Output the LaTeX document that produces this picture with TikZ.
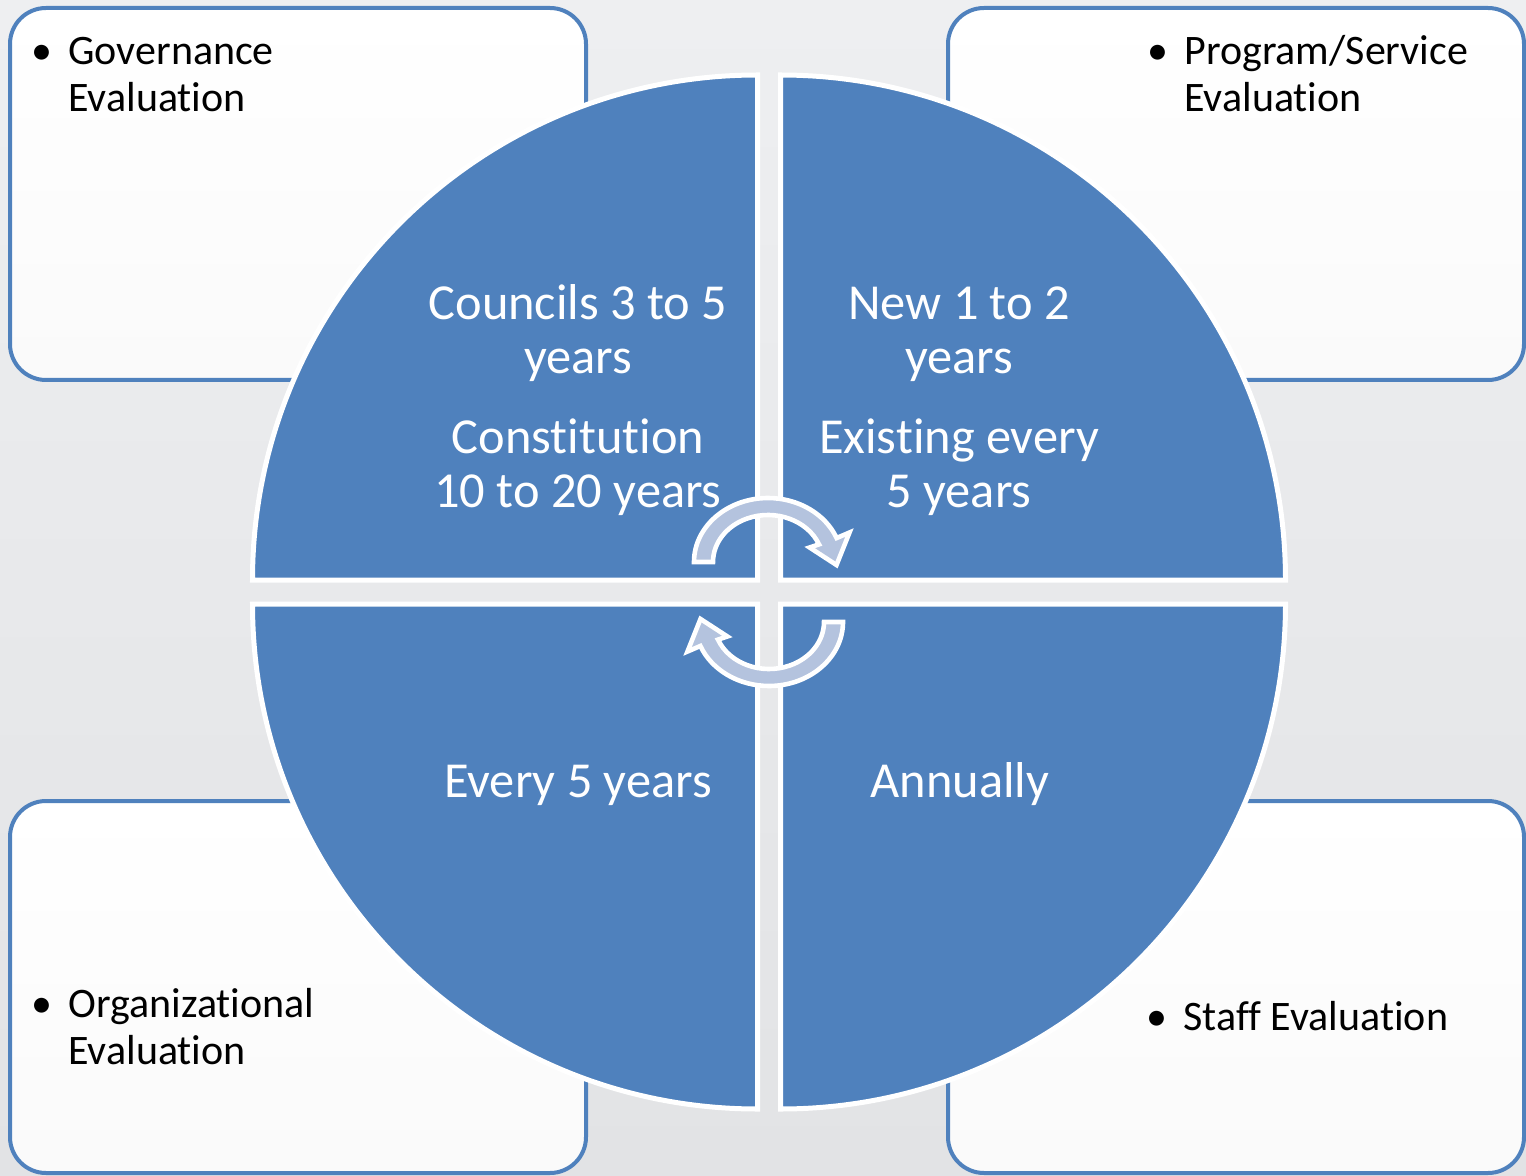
\documentclass[tikz,border=0pt]{standalone}
\usepackage{fontspec}
\setmainfont{Carlito}[Ligatures=NoCommon]
\definecolor{cycleblue}{RGB}{79,129,189}
\definecolor{arrowblue}{RGB}{180,195,222}
\definecolor{mistlight}{RGB}{238,239,241}
\definecolor{mistdark}{RGB}{226,227,229}

\begin{document}
\begin{tikzpicture}[
    x=0.5pt, y=0.5pt,
    evalbox/.style={rectangle, draw=cycleblue, line width=2pt, rounded corners=18pt, top color=white, bottom color=black!2, minimum width=288pt, minimum height=186pt, inner sep=0pt},
    quarter/.style={fill=cycleblue, draw=white, line width=2.5pt},
    boxtext/.style={font=\fontsize{21}{23.5}\selectfont, text=black, inner sep=0pt, anchor=base west},
    cycletext/.style={font=\fontsize{25.2}{27}\selectfont, text=white, inner sep=0pt, anchor=base},
    cyclearrow/.pic={
        \path[fill=arrowblue, draw=white, line width=2.3pt]
            (-74,0) arc[start angle=180, end angle=22, x radius=74, y radius=64]
            -- (81.5,29.5) -- (68.5,-3) -- (41.6,14.5)
            -- (51,17.6) arc[start angle=22, end angle=180, x radius=55, y radius=47]
            -- cycle;
    }
]
    \useasboundingbox (0,0) rectangle (1526,1175);
    \fill[top color=mistlight, bottom color=mistdark] (0,0) rectangle (1526,1175);

    % evaluation boxes
    \node[evalbox] (govbox) at (298,981) {};
    \node[evalbox] (progbox) at (1236,981) {};
    \node[evalbox] (orgbox) at (298,188) {};
    \node[evalbox] (staffbox) at (1236,188) {};

    % the four quarters
    \draw[quarter] (757.5,595) -- (252.5,595) arc[start angle=180, end angle=90, radius=505] -- cycle;
    \draw[quarter] (780.5,595) -- (780.5,1100) arc[start angle=90, end angle=0, radius=505] -- cycle;
    \draw[quarter] (757.5,571) -- (252.5,571) arc[start angle=180, end angle=270, radius=505] -- cycle;
    \draw[quarter] (780.5,571) -- (780.5,66) arc[start angle=270, end angle=360, radius=505] -- cycle;

    \node[boxtext] (govtext) at (68,1110) {\begin{tabular}[t]{@{}l@{}}\llap{•\hspace{8pt}}Governance\\Evaluation\end{tabular}};
    \node[boxtext] (progtext) at (1184,1110) {\begin{tabular}[t]{@{}l@{}}\llap{•\hspace{8pt}}Program/Service\\Evaluation\end{tabular}};
    \node[boxtext] (orgtext) at (68,158) {\begin{tabular}[t]{@{}l@{}}\llap{•\hspace{8pt}}Organizational\\Evaluation\end{tabular}};
    \node[boxtext] (stafftext) at (1183,145) {\llap{•\hspace{8pt}}Staff Evaluation};

    \node[cycletext] (counciltext) at (578,855) {\begin{tabular}[t]{@{}c@{}}Councils 3 to 5\\years\\[13pt]Constitution\\10 to 20 years\end{tabular}};
    \node[cycletext] (newtext) at (959,855) {\begin{tabular}[t]{@{}c@{}}New 1 to 2\\years\\[13pt]Existing every\\5 years\end{tabular}};
    \node[cycletext] (everytext) at (578,378) {Every 5 years};
    \node[cycletext] (annualtext) at (960,378) {Annually};

    % turning arrows in the middle
    \pic at (768,613) {cyclearrow};
    \pic[rotate=180] at (769,553) {cyclearrow};
\end{tikzpicture}
\end{document}
